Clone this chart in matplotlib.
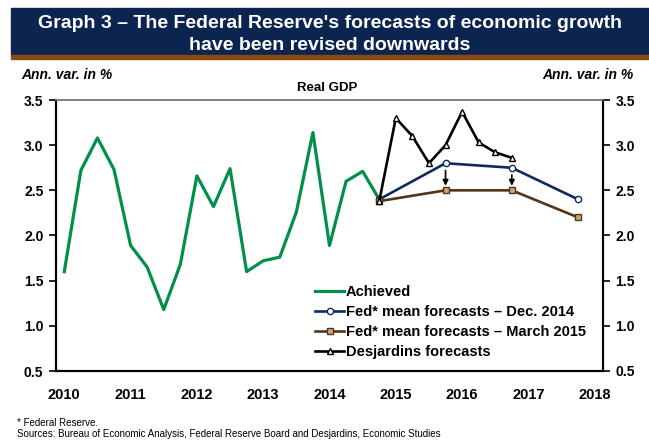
import matplotlib
matplotlib.use('Agg')
import matplotlib.pyplot as plt
from matplotlib.patches import Rectangle

plt.rcParams['font.family'] = ['Liberation Sans', 'DejaVu Sans']

# quarterly positions: 0 = 2010Q1 ... 32 = 2018Q1
year_labels = ['2010', '2011', '2012', '2013', '2014', '2015', '2016', '2017', '2018']

achieved_q = list(range(20))
achieved = [1.60, 2.72, 3.08, 2.73, 1.89, 1.65, 1.18, 1.68, 2.66, 2.32,
            2.74, 1.60, 1.72, 1.76, 2.26, 3.14, 1.89, 2.60, 2.71, 2.40]

fed_q = [19, 23, 27, 31]
fed_dec2014 = [2.40, 2.80, 2.75, 2.40]
fed_mar2015 = [2.38, 2.50, 2.50, 2.20]

desj_q = [19, 20, 21, 22, 23, 24, 25, 26, 27]
desjardins = [2.38, 3.30, 3.10, 2.80, 3.00, 3.37, 3.03, 2.92, 2.86]

green = '#00904A'
navy = '#0E2B5C'
brown = '#54351A'
header_blue = '#0B2450'
header_brown = '#8A4B12'

W, H = 649, 440
fig = plt.figure(figsize=(W / 100, H / 100), dpi=100)

# header band
fig.patches.append(Rectangle((11 / W, 1 - 55 / H), 1 - 11 / W, 47 / H,
                             transform=fig.transFigure, color=header_blue, zorder=0))
fig.patches.append(Rectangle((11 / W, 1 - 59 / H), 1 - 11 / W, 4 / H,
                             transform=fig.transFigure, color=header_brown, zorder=0))
fig.text(330 / W, 1 - 23 / H, "Graph 3 \u2013 The Federal Reserve's forecasts of economic growth",
         ha='center', va='center', color='white', fontsize=14, fontweight='bold')
fig.text(330 / W, 1 - 45 / H, 'have been revised downwards',
         ha='center', va='center', color='white', fontsize=14, fontweight='bold')

ax = fig.add_axes([56 / W, 69 / H, 547 / W, 271 / H])

ax.plot(achieved_q, achieved, color=green, lw=2.3, label='Achieved', zorder=3)
ax.plot(fed_q, fed_dec2014, color=navy, lw=1.9, marker='o', ms=4.5,
        mfc='white', mec=navy, mew=1, label='Fed* mean forecasts \u2013 Dec. 2014', zorder=4)
ax.plot(fed_q, fed_mar2015, color=brown, lw=1.9, marker='s', ms=4.5,
        mfc='#C9A57E', mec=brown, mew=1, label='Fed* mean forecasts \u2013 March 2015', zorder=4)
ax.plot(desj_q, desjardins, color='black', lw=1.9, marker='^', ms=5,
        mfc='white', mec='black', mew=1, label='Desjardins forecasts', zorder=5)

# arrows showing the downward revision
for q, hi, lo in zip(fed_q[1:3], fed_dec2014[1:3], fed_mar2015[1:3]):
    ax.annotate('', xy=(q, lo + 0.05), xytext=(q, hi - 0.08),
                arrowprops=dict(arrowstyle='-|>', color='black', lw=1.2,
                                mutation_scale=8, shrinkA=0, shrinkB=0))

ax.set_xlim(-0.5, 32.5)
ax.set_ylim(0.5, 3.5)
ax.set_xticks(range(0, 33, 4))
ax.set_xticklabels(year_labels, fontsize=10.5, fontweight='bold')
ax.tick_params(axis='x', length=0, pad=12)
yt = [0.5, 1.0, 1.5, 2.0, 2.5, 3.0, 3.5]
ax.set_yticks(yt)
ax.set_yticklabels([f'{v:.1f}' for v in yt], fontsize=10, fontweight='bold')
ax.tick_params(axis='y', direction='out', length=5, width=1.2, pad=4)

ax2 = ax.twinx()
ax2.set_ylim(0.5, 3.5)
ax2.set_yticks(yt)
ax2.set_yticklabels([f'{v:.1f}' for v in yt], fontsize=10, fontweight='bold')
ax2.tick_params(axis='y', direction='out', length=5, width=1.2, pad=4)

for a in (ax, ax2):
    for s in ('left', 'right', 'bottom'):
        a.spines[s].set_linewidth(1.5)
        a.spines[s].set_color('black')
    a.spines['top'].set_color('#7F7F7F')
    a.spines['top'].set_linewidth(1.2)

ax.legend(loc='lower left', bbox_to_anchor=(0.455, 0.005), frameon=False,
          prop={'weight': 'bold', 'size': 10.5}, handlelength=2.0,
          handletextpad=0.1, labelspacing=0.42, borderaxespad=0.3)

fig.text(21 / W, 1 - 75 / H, 'Ann. var. in %', ha='left', va='center',
         fontsize=10, fontweight='bold', fontstyle='italic')
fig.text(634 / W, 1 - 75 / H, 'Ann. var. in %', ha='right', va='center',
         fontsize=10, fontweight='bold', fontstyle='italic')
fig.text(327 / W, 1 - 88 / H, 'Real GDP', ha='center', va='center',
         fontsize=9.5, fontweight='bold')

fig.text(17 / W, 1 - 423 / H, '* Federal Reserve.', ha='left', va='center', fontsize=7)
fig.text(17 / W, 1 - 434 / H,
         'Sources: Bureau of Economic Analysis, Federal Reserve Board and Desjardins, Economic Studies',
         ha='left', va='center', fontsize=7)

fig.savefig('out.png', dpi=100)
